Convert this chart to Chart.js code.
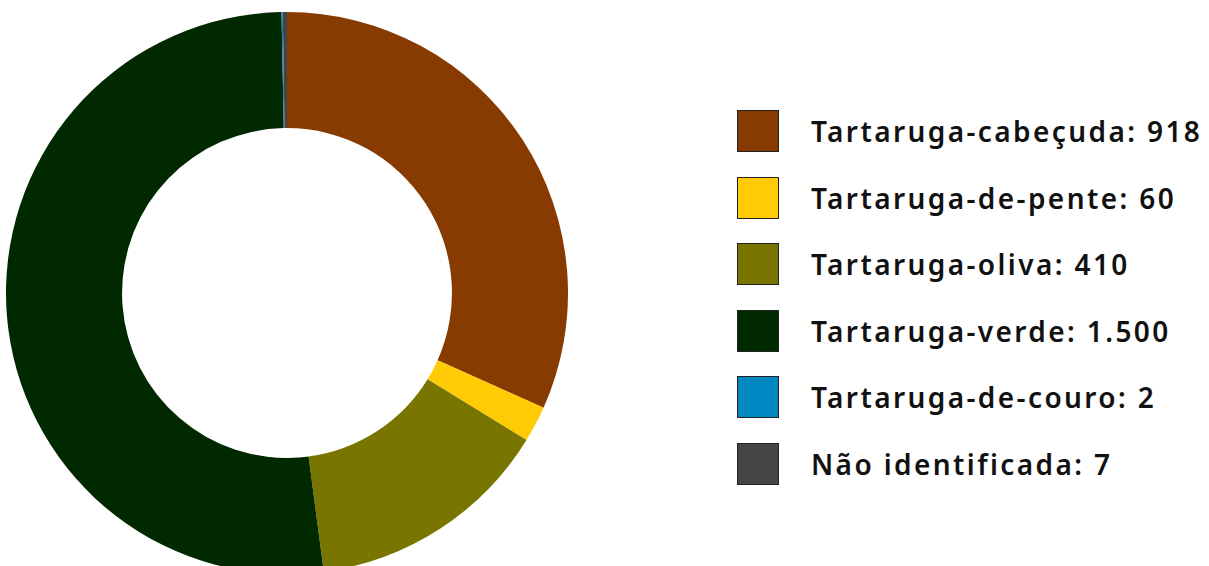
<!DOCTYPE html>
<html>
<head>
<meta charset="utf-8">
<script src="https://cdn.jsdelivr.net/npm/chart.js@4/dist/chart.umd.min.js"></script>
<style>
  html, body { margin: 0; padding: 0; background: #fff; overflow: hidden; width: 1209px; height: 566px; }
  #wrap { position: absolute; left: 6px; top: 12px; width: 562px; height: 562px; }
  #legend { position: absolute; left: 737px; top: 110px; margin: 0; padding: 0; list-style: none; }
  #legend li { display: flex; align-items: center; height: 42px; margin-bottom: 24.6px; }
  #legend .box { width: 40px; height: 40px; border: 1px solid #222; box-sizing: content-box; }
  #legend .txt { margin-left: 32px; font-family: "Noto Sans", sans-serif; font-weight: 600; font-size: 28px; letter-spacing: 2.4px; color: #111; white-space: nowrap; }
</style>
</head>
<body>
<div id="wrap"><canvas id="myChart" width="562" height="562"></canvas></div>
<ul id="legend"></ul>
<script>
const labels = ['Tartaruga-cabeçuda', 'Tartaruga-de-pente', 'Tartaruga-oliva', 'Tartaruga-verde', 'Tartaruga-de-couro', 'Não identificada'];
const values = [918, 60, 410, 1500, 2, 7];
const valueLabels = ['918', '60', '410', '1.500', '2', '7'];
const colors = ['#873b00', '#ffcb05', '#787600', '#002900', '#0088c2', '#454547'];

const printChart = () => {
  const ctx = document.getElementById('myChart').getContext('2d');
  new Chart(ctx, {
    type: 'doughnut',
    data: {
      labels: labels,
      datasets: [
        {
          data: values,
          backgroundColor: colors,
          borderWidth: 0
        }
      ]
    },
    options: {
      responsive: false,
      animation: false,
      cutout: '58.7%',
      layout: { padding: 0 },
      plugins: {
        legend: { display: false },
        tooltip: { enabled: false }
      }
    }
  });

  const legend = document.getElementById('legend');
  labels.forEach((label, i) => {
    const li = document.createElement('li');
    li.innerHTML = `<span class="box" style="background:${colors[i]}"></span><span class="txt">${label}: ${valueLabels[i]}</span>`;
    legend.appendChild(li);
  });
};

printChart();
</script>
</body>
</html>
